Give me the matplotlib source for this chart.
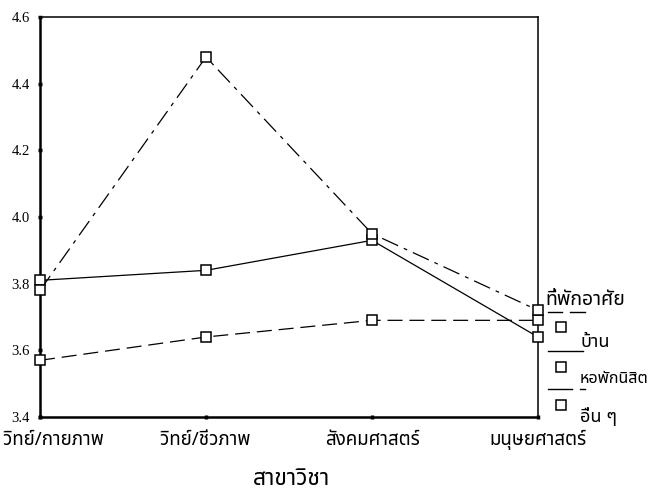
import matplotlib
matplotlib.use("Agg")
import matplotlib.pyplot as plt
import matplotlib.transforms as mtransforms
from matplotlib.lines import Line2D

# ---- data ----
categories = ["วิทย์/กายภาพ", "วิทย์/ชีวภาพ", "สังคมศาสตร์", "มนุษยศาสตร์"]
home = [3.81, 3.84, 3.93, 3.64]        # บ้าน
dorm = [3.57, 3.64, 3.69, 3.69]        # หอพักนิสิต
other = [3.78, 4.48, 3.95, 3.72]       # อื่น ๆ
series_labels = ["บ้าน", "หอพักนิสิต", "อื่น ๆ"]
legend_title = "ที่พักอาศัย"
x_label = "สาขาวิชา"
y_ticks = [3.4, 3.6, 3.8, 4.0, 4.2, 4.4, 4.6]

THAI = ["Noto Sans Thai", "DejaVu Sans"]
SERIF = ["Liberation Serif", "DejaVu Serif"]

W, H = 649, 492
fig = plt.figure(figsize=(W / 100, H / 100), dpi=100)

def fx(px):
    return px / W

def fy(py):
    return 1 - py / H

ax = fig.add_axes([fx(40), fy(417), fx(538) - fx(40), fy(17) - fy(417)])

xs = list(range(len(categories)))
mk = dict(marker="s", markersize=6.5, markerfacecolor="white",
          markeredgecolor="black", markeredgewidth=1.1, color="black",
          lw=0.9, clip_on=False, zorder=3)
ax.plot(xs, home, linestyle="-", **mk)
ax.plot(xs, dorm, linestyle=(0, (12, 5.5)), **mk)
ax.plot(xs, other, linestyle=(0, (14, 5, 3, 5)), **mk)

ax.set_xlim(0, 3)
ax.set_ylim(3.4, 4.6)
ax.set_yticks(y_ticks)
ax.set_yticklabels([f"{v:.1f}" for v in y_ticks], fontfamily=SERIF, fontsize=10.5)
ax.set_xticks(xs)
ax.set_xticklabels([])
ax.tick_params(axis="both", direction="inout", length=3, width=2.5, pad=4)
ax.tick_params(axis="y", pad=6)
for s in ["left", "bottom"]:
    ax.spines[s].set_linewidth(1.8)
for s in ["top", "right"]:
    ax.spines[s].set_linewidth(1.1)

# category labels drawn at tick positions
trans = mtransforms.blended_transform_factory(ax.transData, fig.transFigure)
for i, lab in enumerate(categories):
    if i == 0:
        fig.text(fx(3), fy(445), lab, ha="left", va="baseline",
                 fontfamily=THAI, fontsize=13.5)
    else:
        ax.text(xs[i], fy(445), lab, transform=trans, ha="center",
                va="baseline", fontfamily=THAI, fontsize=13.5)

fig.text(fx(291), fy(485), x_label, ha="center", va="baseline",
         fontfamily=THAI, fontsize=16.5)

# legend (SPSS style)
fig.text(fx(545), fy(305), legend_title, ha="left", va="baseline",
         fontfamily=THAI, fontsize=14)

def seg(x0, x1, y):
    fig.add_artist(Line2D([fx(x0), fx(x1)], [fy(y), fy(y)], color="black",
                          lw=1.0, transform=fig.transFigure))

def sq(x, y):
    fig.add_artist(Line2D([fx(x)], [fy(y)], marker="s", markersize=6.5,
                          markerfacecolor="white", markeredgecolor="black",
                          markeredgewidth=1.1, transform=fig.transFigure))

seg(548, 562, 312); seg(570, 585, 312)
sq(561, 327)
fig.text(fx(580), fy(347), series_labels[0], ha="left", va="baseline",
         fontfamily=THAI, fontsize=13)
seg(548, 583, 351)
sq(561, 367)
fig.text(fx(580), fy(383), series_labels[1], ha="left", va="baseline",
         fontfamily=THAI, fontsize=11.6)
seg(548, 572, 389); seg(580, 585, 389)
sq(561, 405)
fig.text(fx(580), fy(422), series_labels[2], ha="left", va="baseline",
         fontfamily=THAI, fontsize=13)

fig.savefig("out.png", dpi=100)
